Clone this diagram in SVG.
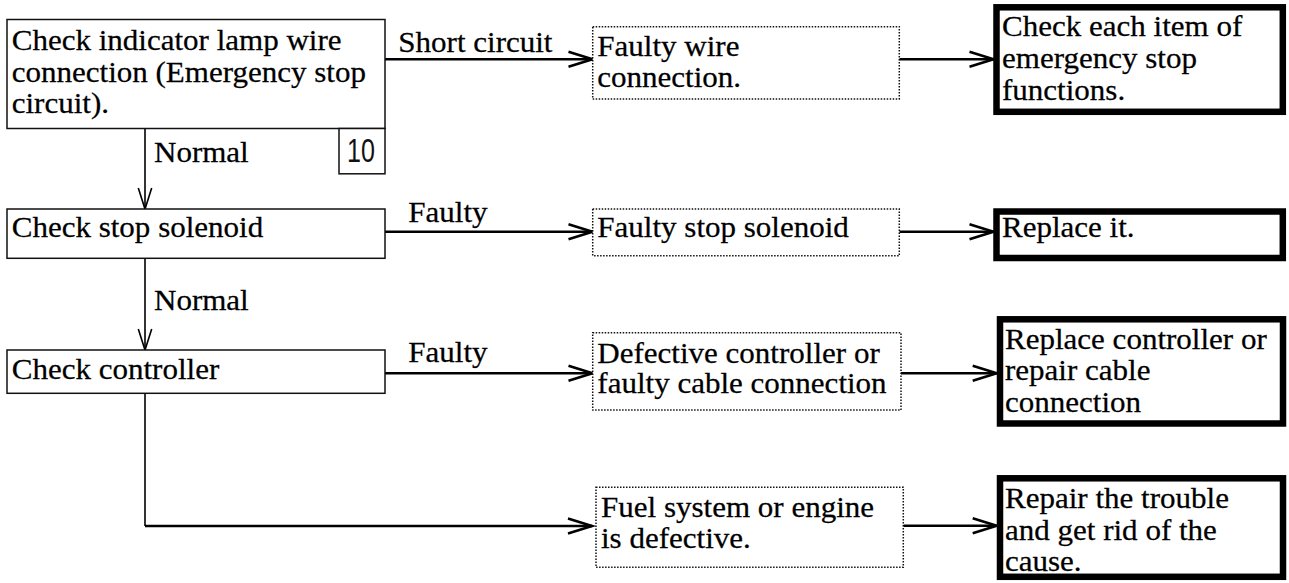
<svg xmlns="http://www.w3.org/2000/svg" width="1289" height="583" viewBox="0 0 1289 583">
<style>
.t{font-family:'Liberation Serif','Times New Roman',Tinos,'DejaVu Serif',serif;font-size:29px;fill:#000;stroke:#000;stroke-width:0.25}
.n{font-family:'Liberation Sans',Arial,sans-serif;font-size:33px;fill:#111}
.box{fill:#fff;stroke:#111;stroke-width:1.5}
.dot{fill:#fff;stroke:#111;stroke-width:1.5;stroke-dasharray:1.5 1.5}
.thick{fill:#fff;stroke:#000;stroke-width:6.5}
.c{fill:none;stroke:#000;stroke-width:2.5}
.cv{fill:none;stroke:#000;stroke-width:1.6}
</style>
<defs>
<marker id="ah" markerUnits="userSpaceOnUse" markerWidth="30" markerHeight="20" refX="24" refY="8" orient="auto" overflow="visible">
<path d="M0,0.5 L24,8 L0,15.5" fill="none" stroke="#000" stroke-width="2.6"/>
</marker>
<marker id="av" markerUnits="userSpaceOnUse" markerWidth="26" markerHeight="16" refX="21" refY="7" orient="auto" overflow="visible">
<path d="M0,0.3 L21,7 L0,13.7" fill="none" stroke="#000" stroke-width="1.6"/>
</marker>
</defs>

<g id="connectors">
<line class="cv" x1="145" y1="128.5" x2="145" y2="209" marker-end="url(#av)"/>
<line class="cv" x1="145" y1="258.3" x2="145" y2="350" marker-end="url(#av)"/>
<path class="cv" d="M145,393.3 V526"/>
<path class="c" d="M145,526 H592" marker-end="url(#ah)"/>
<line class="c" x1="385" y1="59.3" x2="592.5" y2="59.3" marker-end="url(#ah)"/>
<line class="c" x1="899.3" y1="59.3" x2="993.5" y2="59.3" marker-end="url(#ah)"/>
<line class="c" x1="385" y1="231.7" x2="592.5" y2="231.7" marker-end="url(#ah)"/>
<line class="c" x1="899.3" y1="231.7" x2="993.5" y2="231.7" marker-end="url(#ah)"/>
<line class="c" x1="385" y1="373.3" x2="592.5" y2="373.3" marker-end="url(#ah)"/>
<line class="c" x1="901" y1="373.3" x2="996.7" y2="373.3" marker-end="url(#ah)"/>
<line class="c" x1="903.3" y1="525.7" x2="996.7" y2="525.7" marker-end="url(#ah)"/>
<text class="t" transform="translate(398.3,0) scale(1.07,1)"><tspan x="0" y="52">Short circuit</tspan></text>
<text class="t" transform="translate(154,0) scale(1.07,1)"><tspan x="0" y="162.3">Normal</tspan></text>
<text class="t" transform="translate(408.3,0) scale(1.07,1)"><tspan x="0" y="222">Faulty</tspan></text>
<text class="t" transform="translate(154,0) scale(1.07,1)"><tspan x="0" y="310">Normal</tspan></text>
<text class="t" transform="translate(408.3,0) scale(1.07,1)"><tspan x="0" y="362">Faulty</tspan></text>
</g>

<g id="check-lamp">
<rect class="box" x="7" y="19.5" width="378" height="109"/>
<text class="t" transform="translate(11.7,0) scale(1.07,1)"><tspan x="0" y="50">Check indicator lamp wire</tspan><tspan x="0" y="82">connection (Emergency stop</tspan><tspan x="0" y="113">circuit).</tspan></text>
</g>
<g id="page-ref">
<rect class="box" x="339" y="128.5" width="46" height="45.3"/>
<text class="n" text-anchor="middle" transform="translate(361,162.3) scale(0.76,1)">10</text>
</g>
<g id="check-solenoid">
<rect class="box" x="7" y="209" width="378" height="49.3"/>
<text class="t" transform="translate(11.7,0) scale(1.07,1)"><tspan x="0" y="237.3">Check stop solenoid</tspan></text>
</g>
<g id="check-controller">
<rect class="box" x="7" y="350" width="378" height="43.3"/>
<text class="t" transform="translate(11.7,0) scale(1.07,1)"><tspan x="0" y="379">Check controller</tspan></text>
</g>

<g id="faulty-wire">
<rect class="dot" x="592.7" y="26.7" width="306.6" height="72.3"/>
<text class="t" transform="translate(597.3,0) scale(1.07,1)"><tspan x="0" y="56">Faulty wire</tspan><tspan x="0" y="87.3">connection.</tspan></text>
</g>
<g id="faulty-solenoid">
<rect class="dot" x="592.7" y="209" width="306.6" height="46.7"/>
<text class="t" transform="translate(597.3,0) scale(1.07,1)"><tspan x="0" y="237.3">Faulty stop solenoid</tspan></text>
</g>
<g id="defective-controller">
<rect class="dot" x="592.7" y="332.7" width="308.3" height="77.3"/>
<text class="t" transform="translate(597.3,0) scale(1.07,1)"><tspan x="0" y="363.3">Defective controller or</tspan><tspan x="0" y="393.3">faulty cable connection</tspan></text>
</g>
<g id="fuel-engine">
<rect class="dot" x="596" y="487.3" width="307.3" height="80"/>
<text class="t" transform="translate(601,0) scale(1.07,1)"><tspan x="0" y="517.3">Fuel system or engine</tspan><tspan x="0" y="548.3">is defective.</tspan></text>
</g>

<g id="check-emergency">
<rect class="thick" x="996.5" y="7.3" width="286.3" height="104.5"/>
<text class="t" transform="translate(1002,0) scale(1.07,1)"><tspan x="0" y="36.5">Check each item of</tspan><tspan x="0" y="68.5">emergency stop</tspan><tspan x="0" y="100">functions.</tspan></text>
</g>
<g id="replace-it">
<rect class="thick" x="996.5" y="211.5" width="286.3" height="46.5"/>
<text class="t" transform="translate(1002,0) scale(1.07,1)"><tspan x="0" y="237.3">Replace it.</tspan></text>
</g>
<g id="replace-controller">
<rect class="thick" x="1000" y="319.3" width="283" height="104.2"/>
<text class="t" transform="translate(1005,0) scale(1.07,1)"><tspan x="0" y="349">Replace controller or</tspan><tspan x="0" y="380">repair cable</tspan><tspan x="0" y="412">connection</tspan></text>
</g>
<g id="repair-trouble">
<rect class="thick" x="1000" y="478.3" width="283" height="98.5"/>
<text class="t" transform="translate(1005,0) scale(1.07,1)"><tspan x="0" y="508">Repair the trouble</tspan><tspan x="0" y="540">and get rid of the</tspan><tspan x="0" y="571">cause.</tspan></text>
</g>
</svg>
